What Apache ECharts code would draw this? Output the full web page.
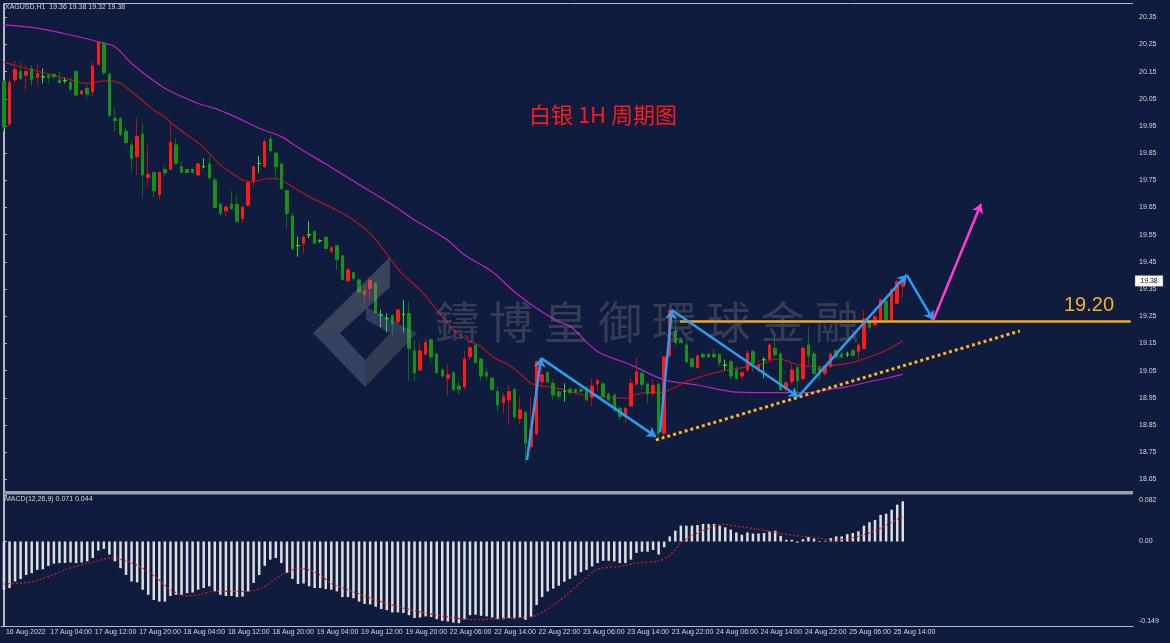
<!DOCTYPE html>
<html><head><meta charset="utf-8">
<script src="https://cdn.jsdelivr.net/npm/echarts/dist/echarts.min.js"></script>
<style>html,body{margin:0;padding:0;background:#101c3e;}#c{width:1170px;height:643px;}</style>
</head><body><div id="c"></div>
<script>
const tickLabels = ['16 Aug 2022','17 Aug 04:00','17 Aug 12:00','17 Aug 20:00','18 Aug 04:00','18 Aug 12:00','18 Aug 20:00','19 Aug 04:00','19 Aug 12:00','19 Aug 20:00','22 Aug 06:00','22 Aug 14:00','22 Aug 22:00','23 Aug 06:00','23 Aug 14:00','23 Aug 22:00','24 Aug 06:00','24 Aug 14:00','24 Aug 22:00','25 Aug 06:00','25 Aug 14:00'];
const priceTicks = [18.65,18.75,18.85,18.95,19.05,19.15,19.25,19.35,19.45,19.55,19.65,19.75,19.85,19.95,20.05,20.15,20.25,20.35];
const macdTicks = [-0.149,0,0.082];
const lastPrice = 19.38;

const opens = [20.113,19.957,20.12,20.15,20.137,20.16,20.129,20.131,20.137,20.14,
20.119,20.117,20.109,20.15,20.068,20.088,20.076,20.177,20.254,20.141,
19.978,19.978,19.931,19.88,19.837,19.92,19.761,19.778,19.698,19.79,
19.79,19.88,19.8,19.79,19.79,19.77,19.8,19.81,19.751,19.662,
19.638,19.662,19.662,19.61,19.659,19.747,19.812,19.8,19.902,19.85,
19.81,19.712,19.619,19.51,19.518,19.55,19.561,19.528,19.54,19.49,
19.51,19.472,19.381,19.41,19.383,19.331,19.353,19.371,19.255,19.242,
19.251,19.23,19.257,19.26,19.122,19.052,19.111,19.163,19.111,19.052,
19.022,19.042,18.993,18.991,19.101,19.144,19.092,19.042,19.022,18.972,
18.932,18.942,18.981,18.874,18.895,18.77,18.819,19.009,19.042,19.003,
18.972,18.973,18.981,18.98,18.98,18.985,18.952,19.001,19.001,18.964,
18.96,18.911,18.881,18.92,19.0,19.04,19.0,18.967,19.0,18.82,
19.105,19.195,19.163,19.144,19.093,19.062,19.11,19.11,19.11,19.11,
19.07,19.083,19.052,19.03,19.052,19.12,19.055,19.09,19.092,19.132,
19.11,18.985,19.01,19.062,19.02,19.144,19.111,19.06,19.04,19.065,
19.123,19.111,19.11,19.123,19.12,19.132,19.23,19.218,19.236,19.304,
19.234,19.298,19.36];
const highs = [20.12,20.125,20.189,20.186,20.174,20.174,20.18,20.162,20.143,20.143,
20.15,20.128,20.128,20.155,20.082,20.101,20.187,20.262,20.262,20.146,
20.018,19.982,19.945,19.896,19.978,19.96,19.88,19.782,19.784,19.806,
19.96,19.905,19.819,19.792,19.792,19.815,19.831,19.84,19.761,19.669,
19.659,19.711,19.694,19.653,19.751,19.806,19.84,19.905,19.919,19.855,
19.815,19.717,19.629,19.543,19.549,19.60,19.567,19.533,19.545,19.506,
19.512,19.475,19.43,19.414,19.39,19.365,19.398,19.374,19.273,19.26,
19.258,19.279,19.31,19.304,19.163,19.153,19.169,19.169,19.116,19.058,
19.071,19.046,19.009,19.123,19.14,19.15,19.095,19.058,19.025,18.99,
18.969,18.997,18.985,18.954,18.905,18.954,19.089,19.065,19.046,19.018,
18.981,19.003,18.99,18.985,18.99,18.987,19.022,19.022,19.004,18.969,
18.966,18.917,18.917,19.022,19.10,19.06,19.005,19.02,19.005,19.105,
19.28,19.26,19.169,19.169,19.098,19.108,19.115,19.115,19.132,19.114,
19.09,19.09,19.065,19.046,19.126,19.128,19.09,19.1,19.15,19.177,
19.12,19.01,19.077,19.066,19.14,19.212,19.12,19.065,19.07,19.12,
19.13,19.118,19.12,19.128,19.15,19.273,19.236,19.255,19.316,19.31,
19.353,19.384,19.38];
const lows = [19.93,19.947,20.107,20.119,20.076,20.097,20.097,20.107,20.107,20.129,
20.107,20.107,20.079,20.06,20.065,20.049,20.06,20.171,20.137,19.985,
19.929,19.913,19.88,19.782,19.77,19.69,19.727,19.69,19.68,19.764,
19.788,19.806,19.776,19.776,19.776,19.767,19.794,19.751,19.647,19.619,
19.619,19.641,19.592,19.592,19.653,19.724,19.778,19.798,19.85,19.751,
19.714,19.57,19.491,19.469,19.481,19.537,19.516,19.52,19.496,19.481,
19.42,19.381,19.377,19.383,19.332,19.298,19.312,19.26,19.21,19.19,
19.181,19.218,19.19,19.012,19.012,19.05,19.107,19.079,19.04,19.022,
18.96,18.972,18.96,18.978,19.089,19.077,19.012,19.013,18.972,18.9,
18.893,18.85,18.87,18.854,18.709,18.758,18.81,18.985,19.003,18.942,
18.942,18.936,18.96,18.965,18.97,18.94,18.92,18.973,18.95,18.936,
18.899,18.868,18.856,18.917,18.995,18.98,18.93,18.957,18.79,18.80,
19.095,19.14,19.15,19.077,19.062,19.058,19.098,19.098,19.098,19.065,
19.052,19.015,19.015,19.02,19.046,19.046,19.04,19.022,19.083,19.1,
18.975,18.965,19.0,18.962,19.015,19.07,19.034,19.015,19.03,19.058,
19.097,19.097,19.1,19.1,19.09,19.128,19.2,19.212,19.224,19.23,
19.23,19.295,19.32];
const closes = [19.947,20.109,20.158,20.125,20.15,20.12,20.143,20.131,20.128,20.131,
20.109,20.117,20.086,20.064,20.079,20.068,20.171,20.258,20.146,19.988,
19.97,19.92,19.889,19.831,19.911,19.77,19.772,19.711,19.779,19.778,
19.89,19.813,19.78,19.779,19.779,19.81,19.8,19.76,19.65,19.629,
19.651,19.647,19.6,19.651,19.741,19.8,19.812,19.892,19.859,19.8,
19.721,19.629,19.5,19.51,19.54,19.55,19.518,19.528,19.50,19.502,
19.459,19.386,19.42,19.39,19.34,19.343,19.381,19.263,19.255,19.242,
19.224,19.273,19.257,19.132,19.042,19.122,19.153,19.101,19.042,19.03,
19.034,18.981,18.981,19.092,19.134,19.079,19.03,19.03,18.981,18.924,
18.954,18.972,18.88,18.905,18.783,18.832,19.083,19.034,19.009,18.96,
18.956,18.973,18.969,18.97,18.975,18.942,18.993,19.013,18.954,18.944,
18.905,18.881,18.911,19.003,19.045,19.0,18.965,18.995,18.82,19.10,
19.27,19.153,19.153,19.083,19.065,19.104,19.1,19.1,19.1,19.079,
19.07,19.03,19.022,19.042,19.114,19.077,19.07,19.09,19.144,19.108,
18.98,19.005,19.052,19.013,19.132,19.104,19.04,19.042,19.065,19.111,
19.1,19.1,19.11,19.106,19.144,19.24,19.21,19.248,19.31,19.236,
19.347,19.377,19.38];

const maRed = [[0,20.184],[3,20.168],[7,20.147],[11,20.125],[15,20.107],[17,20.113],[19,20.117],[21,20.107],[23,20.076],[25,20.043],[27,20.009],[29,19.982],[31,19.947],[33,19.917],[35,19.888],[37,19.849],[39,19.806],[41,19.778],[43,19.751],[45,19.745],[47,19.755],[49,19.757],[51,19.739],[53,19.714],[56,19.68],[60,19.64],[63,19.604],[66,19.555],[68,19.506],[70,19.451],[72,19.402],[75,19.347],[79,19.249],[81,19.2],[83,19.169],[86,19.138],[88,19.101],[91,19.071],[93,19.04],[95,19.003],[98,18.991],[101,18.979],[104,18.962],[108,18.954],[112,18.948],[114,18.962],[116,18.97],[118,18.968],[120,18.979],[123,19.01],[126,19.03],[129,19.046],[132,19.058],[135,19.067],[137,19.077],[139,19.092],[140,19.092],[142,19.078],[144,19.068],[146,19.065],[148,19.066],[150,19.071],[153,19.08],[156,19.1],[159,19.125],[162,19.16]];
const maMagenta = [[0,20.322],[6,20.31],[12,20.285],[17,20.26],[20,20.242],[23,20.18],[29,20.089],[35,20.033],[38,20.015],[41,19.99],[46,19.942],[50,19.911],[53,19.871],[58,19.81],[62,19.76],[66,19.71],[70,19.66],[74,19.604],[80,19.53],[83,19.475],[88,19.414],[92,19.34],[96,19.279],[100,19.23],[102,19.214],[107,19.12],[113,19.071],[119,19.016],[125,18.997],[131,18.973],[137,18.969],[143,18.969],[145,18.969],[148,18.979],[152,18.991],[156,19.009],[159,19.022],[162,19.036]];

const macdHist = [-0.085,-0.082,-0.0705,-0.066,-0.059,-0.056,-0.050,-0.049,-0.043,-0.039,
-0.038,-0.038,-0.037,-0.038,-0.037,-0.035,-0.029,-0.016,-0.013,-0.023,
-0.035,-0.047,-0.059,-0.0705,-0.072,-0.085,-0.094,-0.103,-0.106,-0.106,
-0.096,-0.094,-0.094,-0.091,-0.090,-0.085,-0.082,-0.079,-0.088,-0.094,
-0.096,-0.096,-0.098,-0.097,-0.088,-0.073,-0.059,-0.043,-0.032,-0.029,
-0.038,-0.055,-0.066,-0.075,-0.074,-0.079,-0.082,-0.082,-0.084,-0.085,
-0.088,-0.098,-0.098,-0.100,-0.106,-0.110,-0.111,-0.115,-0.119,-0.121,
-0.125,-0.125,-0.126,-0.130,-0.135,-0.134,-0.132,-0.133,-0.137,-0.140,
-0.141,-0.143,-0.144,-0.137,-0.130,-0.129,-0.131,-0.132,-0.134,-0.137,
-0.137,-0.135,-0.136,-0.134,-0.138,-0.133,-0.112,-0.098,-0.088,-0.083,
-0.078,-0.071,-0.066,-0.060,-0.054,-0.050,-0.044,-0.038,-0.034,-0.034,
-0.035,-0.038,-0.038,-0.032,-0.020,-0.018,-0.018,-0.015,-0.023,-0.010,
0.009,0.019,0.028,0.028,0.028,0.029,0.031,0.031,0.031,0.028,
0.025,0.021,0.016,0.012,0.016,0.014,0.014,0.015,0.018,0.019,
0.010,0.003,0.003,-0.002,0.004,0.008,0.005,0.001,0.001,0.006,
0.009,0.009,0.013,0.015,0.018,0.028,0.034,0.038,0.047,0.049,
0.056,0.065,0.071];
const macdSignal = [[0,-0.075],[5,-0.071],[8,-0.062],[11,-0.050],[14,-0.041],[17,-0.034],[19,-0.029],[22,-0.034],[25,-0.047],[28,-0.068],[30,-0.085],[33,-0.096],[35,-0.094],[38,-0.088],[41,-0.088],[44,-0.088],[47,-0.079],[50,-0.059],[52,-0.050],[53,-0.047],[55,-0.050],[57,-0.059],[59,-0.074],[62,-0.085],[65,-0.096],[68,-0.106],[71,-0.115],[75,-0.124],[80,-0.133],[85,-0.138],[90,-0.135],[95,-0.133],[100,-0.105],[104,-0.072],[107,-0.049],[111,-0.044],[114,-0.038],[118,-0.034],[120,-0.025],[122,-0.002],[125,0.015],[128,0.027],[130,0.030],[132,0.027],[135,0.023],[138,0.018],[140,0.014],[143,0.010],[147,0.006],[149,0.002],[152,0.005],[155,0.012],[158,0.024],[162,0.044]];

// annotation anchors: [bar position, price]
const bluePath = [[[94.27,18.721],[96.8,19.096]],[[96.8,19.096],[117.5,18.807]],[[118.25,18.824],[120.36,19.273]],[[120.36,19.273],[143.17,18.954]],[[143.17,18.954],[162.7,19.402]],[[162.7,19.402],[167.5,19.236]]];
const magentaArrow = [[167.5,19.236],[176.1,19.663]];
const supportLevel = 19.233;
const supportSpan = [121.85,203.1];
const trendLine = [[117.5,18.795],[183.1,19.196]];

const N = 204;
const cats = Array.from({length:N},(_, i)=>i);
const FONT = 'Liberation Sans';
const AX = '#b4b8c0', TXT = '#d8d8d8';

const chart = echarts.init(document.getElementById('c'), null, {renderer:'canvas'});
const wick = opens.map((o,i)=>[o, closes[i], lows[i], highs[i]]);
const body = opens.map((o,i)=>[o, closes[i], Math.min(o,closes[i]), Math.max(o,closes[i])]);

const wm = '鑄博皇御環球金融'.split('');
const graphics = [
  {type:'line', shape:{x1:3.5,y1:3.5,x2:1133,y2:3.5}, style:{stroke:AX,lineWidth:1}},
  {type:'line', shape:{x1:3.5,y1:3.5,x2:3.5,y2:626}, style:{stroke:AX,lineWidth:1}},
  {type:'rect', shape:{x:3.5,y:491,width:1129.5,height:3.5}, style:{fill:'#9aa1ac'}},
  {type:'text', left:5, top:4, style:{text:'XAGUSD,H1  19.36 19.38 19.32 19.38', fill:TXT, font:'7px '+FONT}},
  {type:'text', left:5, top:496, style:{text:'MACD(12,26,9) 0.071 0.044', fill:TXT, font:'7px '+FONT}},
  {type:'text', x:603, y:115, style:{text:'白银 1H 周期图', fill:'#ff1a1a', font:'22px "Noto Sans CJK SC"', align:'center', verticalAlign:'middle'}},
  {type:'text', x:1089, y:305, style:{text:'19.20', fill:'#f5b21e', font:'20px '+FONT, align:'center', verticalAlign:'middle'}},
  {type:'polygon', z:50, shape:{points:[[390,257],[313,333],[340,333],[390,287]]}, style:{fill:'rgba(150,150,150,0.33)'}},
  {type:'polygon', z:50, shape:{points:[[313,333],[365,387],[365,360],[340,333]]}, style:{fill:'rgba(120,135,175,0.35)'}},
  {type:'polygon', z:50, shape:{points:[[365,387],[417,333],[390,333],[365,360]]}, style:{fill:'rgba(130,130,130,0.3)'}},
  {type:'polygon', z:50, shape:{points:[[366,307],[417,333],[390,333],[366,320]]}, style:{fill:'rgba(120,135,175,0.3)'}}
];
wm.forEach((ch,i)=>graphics.push({type:'text', z:50, x:457+54.3*i, y:322, style:{text:ch, fill:'rgba(140,140,140,0.3)', font:'44px "Noto Sans CJK TC"', align:'center', verticalAlign:'middle'}}));

const option = {
  backgroundColor:'#101c3e',
  animation:false,
  grid:[{left:1.2, width:1131.8, top:3.5, height:487.5},{left:1.2, width:1131.8, top:495, height:131}],
  xAxis:[
    {type:'category', gridIndex:0, data:cats, boundaryGap:true, show:false},
    {type:'category', gridIndex:1, data:cats, boundaryGap:true,
      axisLine:{onZero:false, lineStyle:{color:AX}},
      axisTick:{interval:(i)=> i%8===0 && i<=160, length:3, alignWithLabel:true, lineStyle:{color:AX}},
      axisLabel:{interval:(i)=> i%8===0 && i<=160, formatter:(v,i)=> tickLabels[i/8]||'', align:'left', margin:3, padding:[0,0,0,2], color:TXT, fontSize:7, fontFamily:FONT}},
    {type:'value', gridIndex:0, min:-0.5, max:N-0.5, show:false},
    {type:'value', gridIndex:1, min:-0.5, max:N-0.5, show:false}
  ],
  yAxis:[
    {type:'value', gridIndex:0, position:'right', min:18.607, max:20.4008, splitLine:{show:false},
      axisLine:{show:true, lineStyle:{color:AX}},
      axisTick:{show:true, customValues:priceTicks, length:3, lineStyle:{color:AX}},
      axisLabel:{customValues:priceTicks, formatter:v=>v.toFixed(2), margin:6, color:TXT, fontSize:7, fontFamily:FONT}},
    {type:'value', gridIndex:1, position:'right', min:-0.149, max:0.082, splitLine:{show:false},
      axisLine:{show:true, lineStyle:{color:AX}},
      axisTick:{show:true, customValues:macdTicks, length:3, lineStyle:{color:AX}},
      axisLabel:{customValues:macdTicks, margin:6, color:TXT, fontSize:7, fontFamily:FONT,
        formatter:v=> v>0 ? '{a|'+v.toFixed(3)+'}' : (v<0 ? '{b|'+v.toFixed(3)+'}' : '0.00'),
        rich:{a:{padding:[10,0,0,0], fontSize:7, fontFamily:FONT, color:TXT}, b:{padding:[0,0,10,0], fontSize:7, fontFamily:FONT, color:TXT}}}}
  ],
  series:[
    {type:'line', xAxisIndex:2, yAxisIndex:0, data:maMagenta, symbol:'none', smooth:0.3, lineStyle:{color:'#c21fc8', width:1.2}, z:2},
    {type:'line', xAxisIndex:2, yAxisIndex:0, data:maRed, symbol:'none', smooth:0.3, lineStyle:{color:'#b3141c', width:1.2}, z:2},
    {type:'candlestick', xAxisIndex:0, yAxisIndex:0, data:wick, barWidth:3, z:3,
      itemStyle:{color:'#c81c1c', color0:'#0d7a12', borderColor:'#a8141c', borderColor0:'#0b6c10', borderColorDoji:'#22e022', borderWidth:1}},
    {type:'candlestick', xAxisIndex:0, yAxisIndex:0, data:body, barWidth:3, z:4,
      itemStyle:{color:'#ff1a1a', color0:'#17901a', borderColor:'#ff1a1a', borderColor0:'#17901a', borderColorDoji:'#22e022', borderWidth:1}},
    {type:'lines', coordinateSystem:'cartesian2d', xAxisIndex:2, yAxisIndex:0, z:6,
      data:[{coords:trendLine}], symbol:'none', lineStyle:{color:'#ffb41c', width:3, type:[3,3], opacity:1}},
    {type:'lines', coordinateSystem:'cartesian2d', xAxisIndex:2, yAxisIndex:0, z:6,
      data:[{coords:[[supportSpan[0],supportLevel],[supportSpan[1],supportLevel]]}], symbol:'none', lineStyle:{color:'#f5a81c', width:2.5, opacity:1}},
    {type:'lines', coordinateSystem:'cartesian2d', xAxisIndex:2, yAxisIndex:0, z:7,
      data:bluePath.map(s=>({coords:s})), symbol:['none','arrow'], symbolSize:9, lineStyle:{color:'#2b9cf2', width:2.5, opacity:1}},
    {type:'lines', coordinateSystem:'cartesian2d', xAxisIndex:2, yAxisIndex:0, z:7,
      data:[{coords:magentaArrow}], symbol:['none','arrow'], symbolSize:9, lineStyle:{color:'#ff3dd2', width:2.5, opacity:1}},
    {type:'bar', xAxisIndex:1, yAxisIndex:1, data:macdHist, barWidth:2.5, itemStyle:{color:'#dedede'}},
    {type:'line', xAxisIndex:3, yAxisIndex:1, data:macdSignal, symbol:'none', smooth:0.3, lineStyle:{color:'#d41c24', width:1.2, type:[2,2]}, z:5}
  ],
  graphic: graphics
};
chart.setOption(option);

const py = chart.convertToPixel({yAxisIndex:0}, lastPrice);
chart.setOption({graphic: graphics.concat([
  {type:'rect', z:60, shape:{x:1135, y:py-5.5, width:28, height:11}, style:{fill:'#ffffff', stroke:'#666', lineWidth:0.5}},
  {type:'text', z:61, x:1149, y:py, style:{text:lastPrice.toFixed(2), fill:'#111', font:'7px '+FONT, align:'center', verticalAlign:'middle'}}
])});
</script>
</body></html>
